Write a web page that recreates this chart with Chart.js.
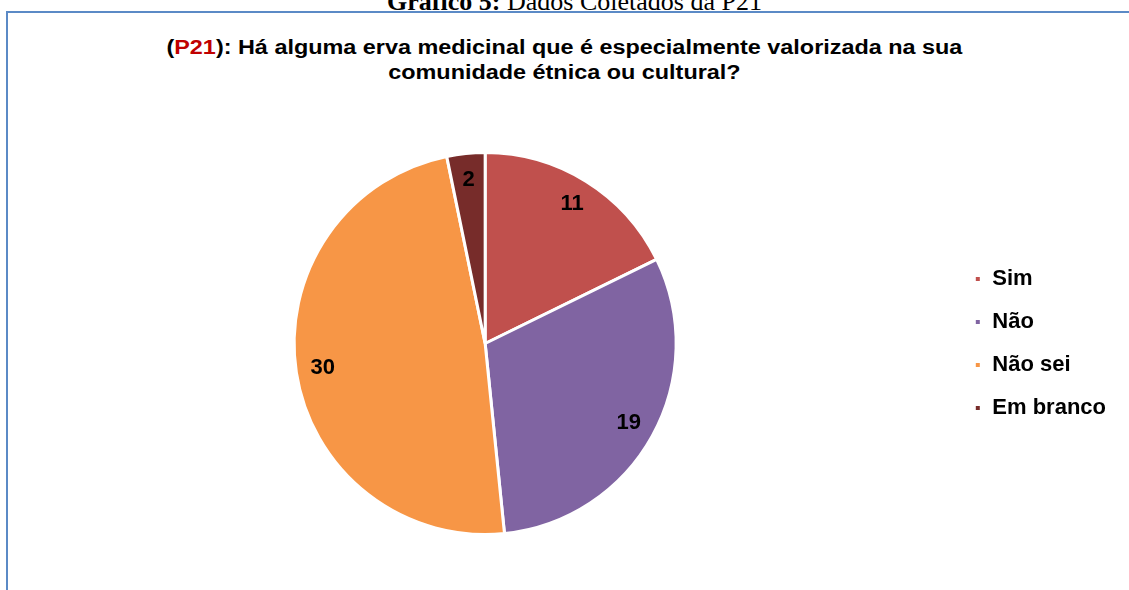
<!DOCTYPE html>
<html lang="pt">
<head>
  <meta charset="UTF-8" />
  <title>Gráfico 5: Dados Coletados da P21</title>
  <script src="https://cdn.jsdelivr.net/npm/chart.js"></script>
  <style>
    body {
      margin: 0;
      width: 1129px;
      height: 590px;
      overflow: hidden;
      background: #fff;
      position: relative;
      font-family: "Liberation Sans", Arial, sans-serif;
    }

    .caption {
      position: absolute;
      top: -13px;
      left: 0;
      width: 1149px;
      text-align: center;
      font-family: "Liberation Serif", "Times New Roman", serif;
      font-size: 26px;
      line-height: 30px;
      color: #000;
    }

    .frame {
      position: absolute;
      left: 6px;
      top: 11px;
      width: 1140px;
      height: 600px;
      border-left: 2px solid #5b8ac6;
      border-top: 2px solid #5b8ac6;
    }

    .title {
      position: absolute;
      top: 35px;
      left: 0;
      width: 1129px;
      text-align: center;
      font-weight: bold;
      font-size: 20px;
      line-height: 25px;
      color: #000;
      transform: scaleX(1.17);
      transform-origin: 565px 0;
    }

    .title .red { color: #c00000; }

    #chartBox {
      position: absolute;
      left: 7px;
      top: 100px;
      width: 1122px;
      height: 490px;
    }
  </style>
</head>
<body>
  <div class="caption"><b>Gráfico 5:</b> Dados Coletados da P21</div>
  <div class="frame"></div>
  <div class="title">(<span class="red">P21</span>): Há alguma erva medicinal que é especialmente valorizada na sua<br>comunidade étnica ou cultural?</div>
  <div id="chartBox"><canvas id="pieChart"></canvas></div>

  <script>
    const categories = ['Sim', 'Não', 'Não sei', 'Em branco'];
    const counts = [11, 19, 30, 2];
    const sliceColors = ['#c0504d', '#8064a2', '#f79646', '#772c2a'];

    // draws the numbers inside each slice
    const sliceLabels = {
      id: 'sliceLabels',
      afterDatasetsDraw(chart) {
        const ctx = chart.ctx;
        const meta = chart.getDatasetMeta(0);
        ctx.save();
        ctx.font = 'bold 22px "Liberation Sans", Arial, sans-serif';
        ctx.fillStyle = '#000';
        ctx.textAlign = 'center';
        ctx.textBaseline = 'middle';
        meta.data.forEach((arc, i) => {
          const p = arc.getProps(['x', 'y', 'startAngle', 'endAngle', 'outerRadius'], true);
          const mid = (p.startAngle + p.endAngle) / 2;
          const r = p.outerRadius * 0.86;
          ctx.fillText(String(counts[i]), p.x + Math.cos(mid) * r, p.y + Math.sin(mid) * r);
        });
        ctx.restore();
      }
    };

    new Chart(document.getElementById('pieChart').getContext('2d'), {
      type: 'pie',
      data: {
        labels: categories,
        datasets: [{
          data: counts,
          backgroundColor: sliceColors,
          borderColor: '#ffffff',
          borderWidth: 3
        }]
      },
      options: {
        responsive: true,
        maintainAspectRatio: false,
        animation: false,
        layout: { padding: { left: 10, right: 13, top: 51, bottom: 54 } },
        plugins: {
          legend: {
            position: 'right',
            labels: {
              boxWidth: 7,
              boxHeight: 7,
              padding: 21,
              color: '#000',
              font: { family: '"Liberation Sans", Arial, sans-serif', size: 22, weight: 'bold' }
            }
          },
          tooltip: { enabled: false }
        }
      },
      plugins: [sliceLabels]
    });
  </script>
</body>
</html>
